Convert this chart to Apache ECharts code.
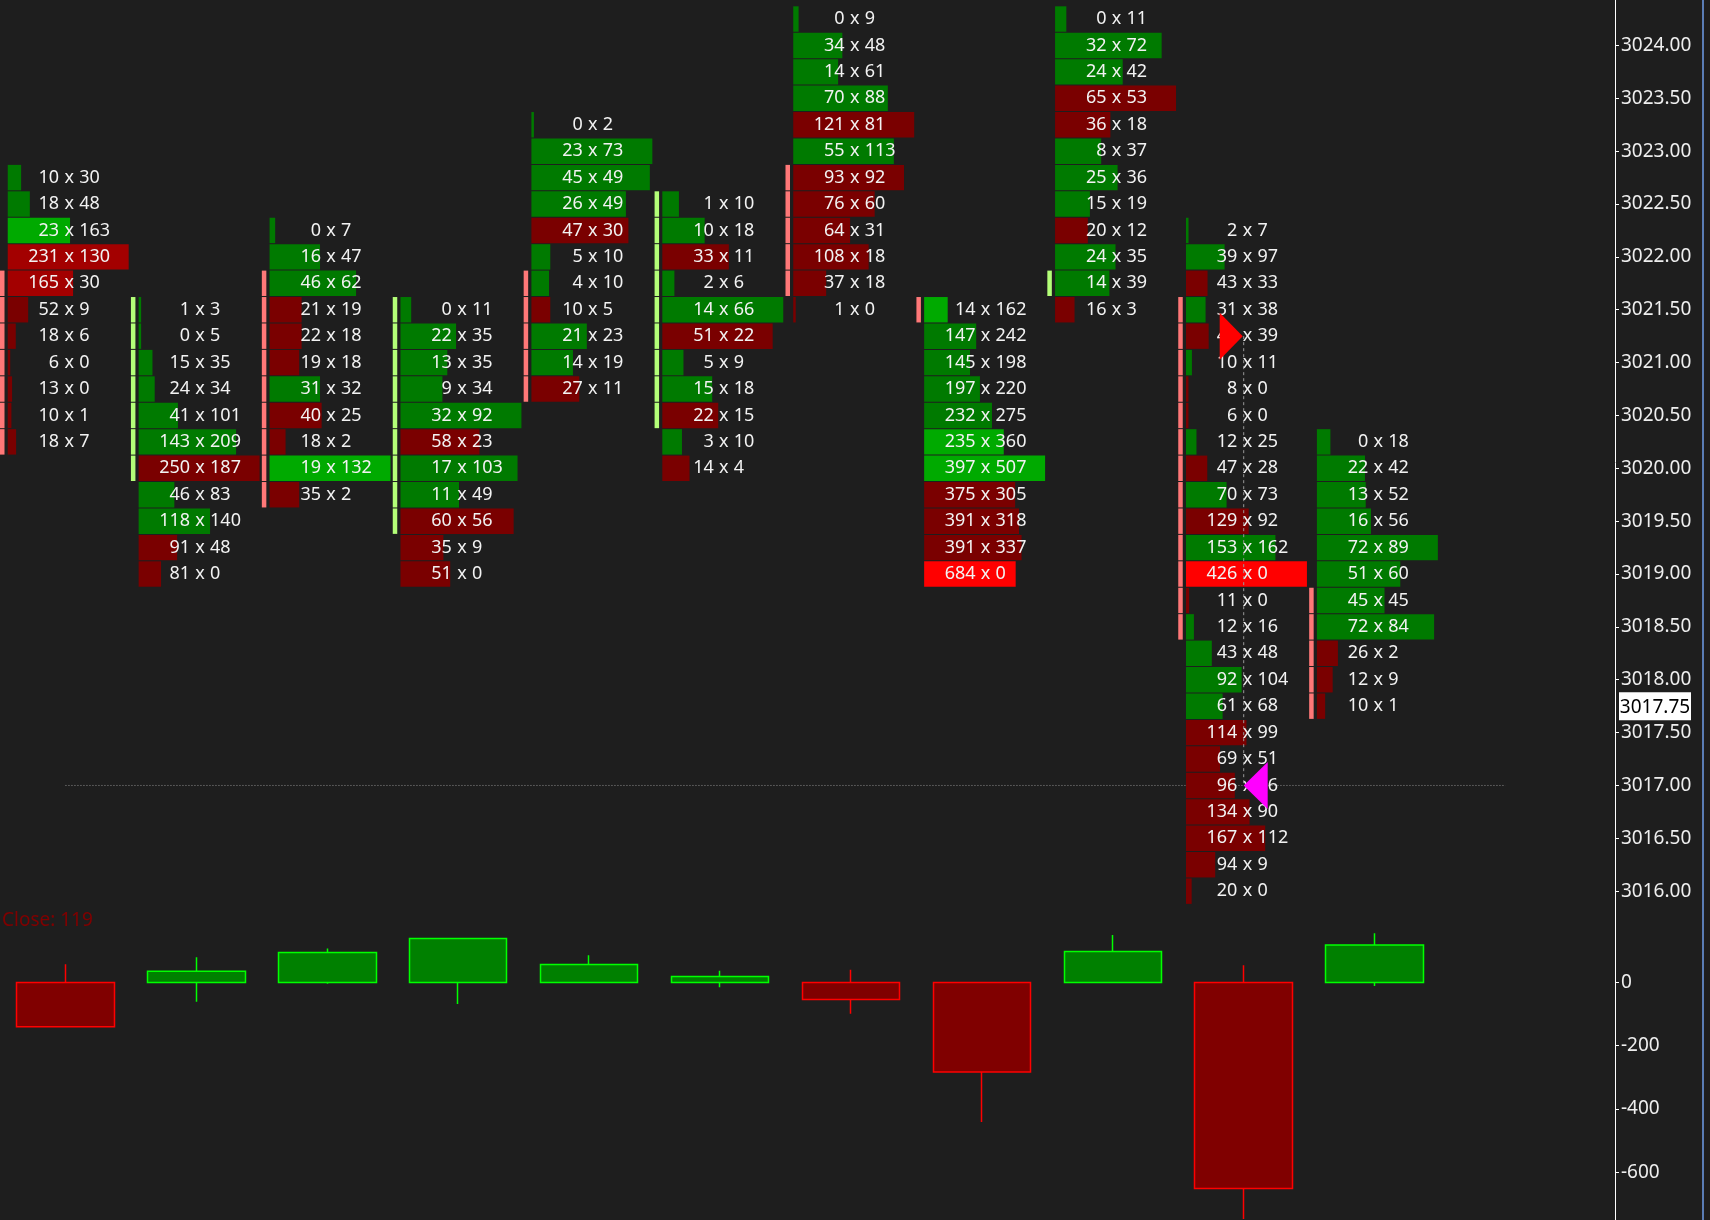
<!DOCTYPE html>
<html>
<head>
<meta charset="utf-8">
<script src="https://cdn.jsdelivr.net/npm/echarts@6/dist/echarts.min.js"></script>
<style>
  html, body { margin: 0; padding: 0; background: #1e1e1e; }
  #main { width: 1710px; height: 1220px; }
</style>
</head>
<body>
<div id="main"></div>
<script>
// footprint rows of each bar: [price, bid, ask]
const bar1 = [[3022.75,10,30],[3022.50,18,48],[3022.25,23,163],[3022.00,231,130],[3021.75,165,30],[3021.50,52,9],
  [3021.25,18,6],[3021.00,6,0],[3020.75,13,0],[3020.50,10,1],[3020.25,18,7]];
const bar2 = [[3021.50,1,3],[3021.25,0,5],[3021.00,15,35],[3020.75,24,34],[3020.50,41,101],[3020.25,143,209],
  [3020.00,250,187],[3019.75,46,83],[3019.50,118,140],[3019.25,91,48],[3019.00,81,0]];
const bar3 = [[3022.25,0,7],[3022.00,16,47],[3021.75,46,62],[3021.50,21,19],[3021.25,22,18],[3021.00,19,18],
  [3020.75,31,32],[3020.50,40,25],[3020.25,18,2],[3020.00,19,132],[3019.75,35,2]];
const bar4 = [[3021.50,0,11],[3021.25,22,35],[3021.00,13,35],[3020.75,9,34],[3020.50,32,92],[3020.25,58,23],
  [3020.00,17,103],[3019.75,11,49],[3019.50,60,56],[3019.25,35,9],[3019.00,51,0]];
const bar5 = [[3023.25,0,2],[3023.00,23,73],[3022.75,45,49],[3022.50,26,49],[3022.25,47,30],[3022.00,5,10],
  [3021.75,4,10],[3021.50,10,5],[3021.25,21,23],[3021.00,14,19],[3020.75,27,11]];
const bar6 = [[3022.50,1,10],[3022.25,10,18],[3022.00,33,11],[3021.75,2,6],[3021.50,14,66],[3021.25,51,22],
  [3021.00,5,9],[3020.75,15,18],[3020.50,22,15],[3020.25,3,10],[3020.00,14,4]];
const bar7 = [[3024.25,0,9],[3024.00,34,48],[3023.75,14,61],[3023.50,70,88],[3023.25,121,81],[3023.00,55,113],
  [3022.75,93,92],[3022.50,76,60],[3022.25,64,31],[3022.00,108,18],[3021.75,37,18],[3021.50,1,0]];
const bar8 = [[3021.50,14,162],[3021.25,147,242],[3021.00,145,198],[3020.75,197,220],[3020.50,232,275],
  [3020.25,235,360],[3020.00,397,507],[3019.75,375,305],[3019.50,391,318],[3019.25,391,337],[3019.00,684,0]];
const bar9 = [[3024.25,0,11],[3024.00,32,72],[3023.75,24,42],[3023.50,65,53],[3023.25,36,18],[3023.00,8,37],
  [3022.75,25,36],[3022.50,15,19],[3022.25,20,12],[3022.00,24,35],[3021.75,14,39],[3021.50,16,3]];
const bar10 = [[3022.25,2,7],[3022.00,39,97],[3021.75,43,33],[3021.50,31,38],[3021.25,41,39],[3021.00,10,11],
  [3020.75,8,0],[3020.50,6,0],[3020.25,12,25],[3020.00,47,28],[3019.75,70,73],[3019.50,129,92],[3019.25,153,162],
  [3019.00,426,0],[3018.75,11,0],[3018.50,12,16],[3018.25,43,48],[3018.00,92,104],[3017.75,61,68],[3017.50,114,99],
  [3017.25,69,51],[3017.00,96,76],[3016.75,134,90],[3016.50,167,112],[3016.25,94,9],[3016.00,20,0]];
const bar11 = [[3020.25,0,18],[3020.00,22,42],[3019.75,13,52],[3019.50,16,56],[3019.25,72,89],[3019.00,51,60],
  [3018.75,45,45],[3018.50,72,84],[3018.25,26,2],[3018.00,12,9],[3017.75,10,1]];
const bars = [bar1, bar2, bar3, bar4, bar5, bar6, bar7, bar8, bar9, bar10, bar11];

// cells drawn in a brighter shade: [bar index, price, level]
const strongCells = [[0,3022.25,1],[0,3022.00,1],[0,3021.75,1],[2,3020.00,1],[7,3021.50,1],
  [7,3020.25,1],[7,3020.00,1],[7,3019.00,2],[9,3019.00,2]];

// open/close range marks left of each bar: [bar index, high, low, direction]
const bodyMarks = [[0,3021.75,3020.25,'down'],[1,3021.50,3020.00,'up'],[2,3021.75,3019.75,'down'],
  [3,3021.50,3019.50,'up'],[4,3021.75,3020.75,'down'],[5,3022.50,3020.50,'up'],[6,3022.75,3021.75,'down'],
  [7,3021.50,3021.50,'down'],[8,3021.75,3021.75,'up'],[9,3021.50,3018.50,'down'],[10,3018.75,3017.75,'down']];

// delta candles (open is 0 on every bar)
const deltaClose = [-140, 36, 95, 139, 57, 19, -54, -283, 98, -652, 119];
const deltaHigh = [58, 80, 108, 139, 86, 37, 40, 0, 150, 55, 156];
const deltaLow = [-140, -61, -4, -68, 0, -15, -99, -441, 0, -748, -11];

const priceTicks = [3016.0, 3016.5, 3017.0, 3017.5, 3018.0, 3018.5, 3019.0, 3019.5, 3020.0,
  3020.5, 3021.0, 3021.5, 3022.0, 3022.5, 3023.0, 3023.5, 3024.0];
const deltaTicks = [0, -200, -400, -600];
const lastPrice = 3017.75;
const refLevel = 3017.00;
// [bar index, price, side]  -1 sell arrow, 1 buy arrow
const signals = [[9, 3021.25, -1], [9, 3017.00, 1]];

const slots = ['1','2','3','4','5','6','7','8','9','10','11','12'];
const TICK = 0.25;
const FONT = '"Noto Sans", sans-serif';
const GREENS = ['#007a00', '#00aa00', '#00cc00'];
const REDS = ['#7a0000', '#a30000', '#ff0000'];

const cellData = [];
bars.forEach((rows, col) => {
  const maxTot = Math.max(...rows.map(r => r[1] + r[2]));
  rows.forEach(r => {
    const hit = strongCells.find(s => s[0] === col && s[1] === r[0]);
    cellData.push([col, r[0], r[1], r[2], maxTot, hit ? hit[2] : 0]);
  });
});

const markData = [];
bodyMarks.forEach(([col, hi, lo, dir]) => {
  bars[col].forEach(r => {
    if (r[0] <= hi && r[0] >= lo) markData.push([col, r[0], dir === 'up' ? 1 : 0]);
  });
});

const candles = deltaClose.map((c, i) => [0, c, deltaLow[i], deltaHigh[i]]);

function renderCell(params, api) {
  const col = api.value(0), price = api.value(1), bid = api.value(2), ask = api.value(3);
  const maxTot = api.value(4), level = api.value(5);
  const c = api.coord([col, price]);
  const band = api.size([1, 0])[0];
  const rowH = api.size([0, TICK])[1];
  const w = Math.max((bid + ask) / maxTot * band * 0.924, 2.5);
  const fill = ask >= bid ? GREENS[level] : REDS[level];
  const xc = c[0] + 3.7;
  const ts = { fill: '#f2f2f2', font: '18px ' + FONT, verticalAlign: 'middle' };
  return {
    type: 'group',
    children: [
      { type: 'rect', shape: { x: c[0] - band * 0.441, y: c[1] - rowH / 2 + 0.5, width: w, height: rowH - 1 }, style: { fill: fill } },
      { type: 'text', style: Object.assign({ text: String(bid), x: xc - 10, y: c[1], align: 'right' }, ts) },
      { type: 'text', style: Object.assign({ text: 'x', x: xc, y: c[1], align: 'center' }, ts) },
      { type: 'text', style: Object.assign({ text: String(ask), x: xc + 10, y: c[1], align: 'left' }, ts) }
    ]
  };
}

function renderMark(params, api) {
  const c = api.coord([api.value(0), api.value(1)]);
  const band = api.size([1, 0])[0];
  const rowH = api.size([0, TICK])[1];
  return {
    type: 'rect',
    shape: { x: c[0] - band * 0.5, y: c[1] - rowH / 2 + 0.5, width: 4.5, height: rowH - 1 },
    style: { fill: api.value(2) ? '#b4ff78' : '#ff7878' }
  };
}

function renderSignal(params, api) {
  const c = api.coord([api.value(0), api.value(1)]);
  const side = api.value(2);
  const pts = side < 0
    ? [[c[0] - 1, c[1]], [c[0] - 24, c[1] - 23.5], [c[0] - 24, c[1] + 23.5]]
    : [[c[0], c[1]], [c[0] + 24, c[1] - 23.5], [c[0] + 24, c[1] + 23.5]];
  return { type: 'polygon', shape: { points: pts }, style: { fill: side < 0 ? '#ff0000' : '#ff00ff' } };
}

function renderLink(params, api) {
  const a = api.coord([api.value(0), api.value(1)]);
  const b = api.coord([api.value(0), api.value(2)]);
  return {
    type: 'line', shape: { x1: a[0], y1: a[1], x2: b[0], y2: b[1] },
    style: { stroke: '#9a9a9a', lineWidth: 1, lineDash: [3, 3] }
  };
}

function renderRef(params, api) {
  const a = api.coord([api.value(0), api.value(2)]);
  const b = api.coord([api.value(1), api.value(2)]);
  return {
    type: 'line', shape: { x1: a[0], y1: a[1], x2: b[0], y2: b[1] },
    style: { stroke: '#8c8c8c', lineWidth: 1, lineDash: [1, 2] }
  };
}

function renderLast(params, api) {
  const c = api.coord([slots.length - 1, api.value(0)]);
  const band = api.size([1, 0])[0];
  const x = c[0] + band / 2 + 44 + 4;
  return {
    type: 'group',
    children: [
      { type: 'rect', shape: { x: x, y: c[1] - 14, width: 72, height: 28 }, style: { fill: '#ffffff' } },
      { type: 'text', style: { text: api.value(0).toFixed(2), x: x + 36, y: c[1] + 1, align: 'center', verticalAlign: 'middle', fill: '#000000', font: '19px ' + FONT } }
    ]
  };
}

const option = {
  backgroundColor: '#1e1e1e',
  animation: false,
  title: {
    text: 'Close: ' + deltaClose[deltaClose.length - 1],
    left: 2, top: 911, padding: 0,
    textStyle: { color: '#800000', fontSize: 19, fontWeight: 'normal', fontFamily: FONT }
  },
  grid: [
    { left: 0, top: 0, width: 1571, height: 925 },
    { left: 0, top: 925, width: 1571, height: 295 }
  ],
  xAxis: [
    { type: 'category', gridIndex: 0, data: slots, show: false },
    { type: 'category', gridIndex: 1, data: slots, show: false }
  ],
  yAxis: [
    {
      type: 'value', gridIndex: 0, position: 'right', offset: 44,
      min: 3015.68, max: 3024.43, scale: true,
      axisLine: { show: true, lineStyle: { color: '#ffffff', width: 1 } },
      axisTick: { show: true, length: 4, customValues: priceTicks, lineStyle: { color: '#ffffff' } },
      axisLabel: { customValues: priceTicks, margin: 6, color: '#eeeeee', fontSize: 19, fontFamily: FONT,
        formatter: v => v.toFixed(2) },
      splitLine: { show: false }
    },
    {
      type: 'value', gridIndex: 1, position: 'right', offset: 44,
      min: -751.5, max: 182,
      axisLine: { show: true, lineStyle: { color: '#ffffff', width: 1 } },
      axisTick: { show: true, length: 4, customValues: deltaTicks, lineStyle: { color: '#ffffff' } },
      axisLabel: { customValues: deltaTicks, margin: 6, color: '#eeeeee', fontSize: 19, fontFamily: FONT },
      splitLine: { show: false }
    }
  ],
  series: [
    { type: 'custom', xAxisIndex: 0, yAxisIndex: 0, z: 1, silent: true, renderItem: renderRef,
      encode: { x: 0, y: 2 }, data: [[0, slots.length - 1, refLevel]] },
    { type: 'custom', xAxisIndex: 0, yAxisIndex: 0, z: 2, silent: true, renderItem: renderMark,
      encode: { x: 0, y: 1 }, data: markData },
    { type: 'custom', xAxisIndex: 0, yAxisIndex: 0, z: 3, silent: true, renderItem: renderCell,
      encode: { x: 0, y: 1 }, data: cellData },
    { type: 'custom', xAxisIndex: 0, yAxisIndex: 0, z: 4, silent: true, renderItem: renderLink,
      encode: { x: 0, y: 1 }, data: [[signals[0][0], signals[0][1], signals[1][1]]] },
    { type: 'custom', xAxisIndex: 0, yAxisIndex: 0, z: 5, silent: true, renderItem: renderSignal,
      encode: { x: 0, y: 1 }, data: signals },
    { type: 'custom', xAxisIndex: 0, yAxisIndex: 0, z: 6, silent: true, renderItem: renderLast,
      encode: { y: 0 }, data: [[lastPrice]] },
    {
      type: 'candlestick', xAxisIndex: 1, yAxisIndex: 1, barWidth: 98, silent: true,
      data: candles,
      itemStyle: { color: '#008000', color0: '#800000', borderColor: '#00ff00', borderColor0: '#ff0000', borderWidth: 1.5 }
    }
  ],
  graphic: [
    { type: 'rect', left: 1702, top: 0, shape: { width: 2, height: 1220 }, style: { fill: '#5a7db5' } }
  ]
};

const chart = echarts.init(document.getElementById('main'));
chart.setOption(option);
</script>
</body>
</html>
